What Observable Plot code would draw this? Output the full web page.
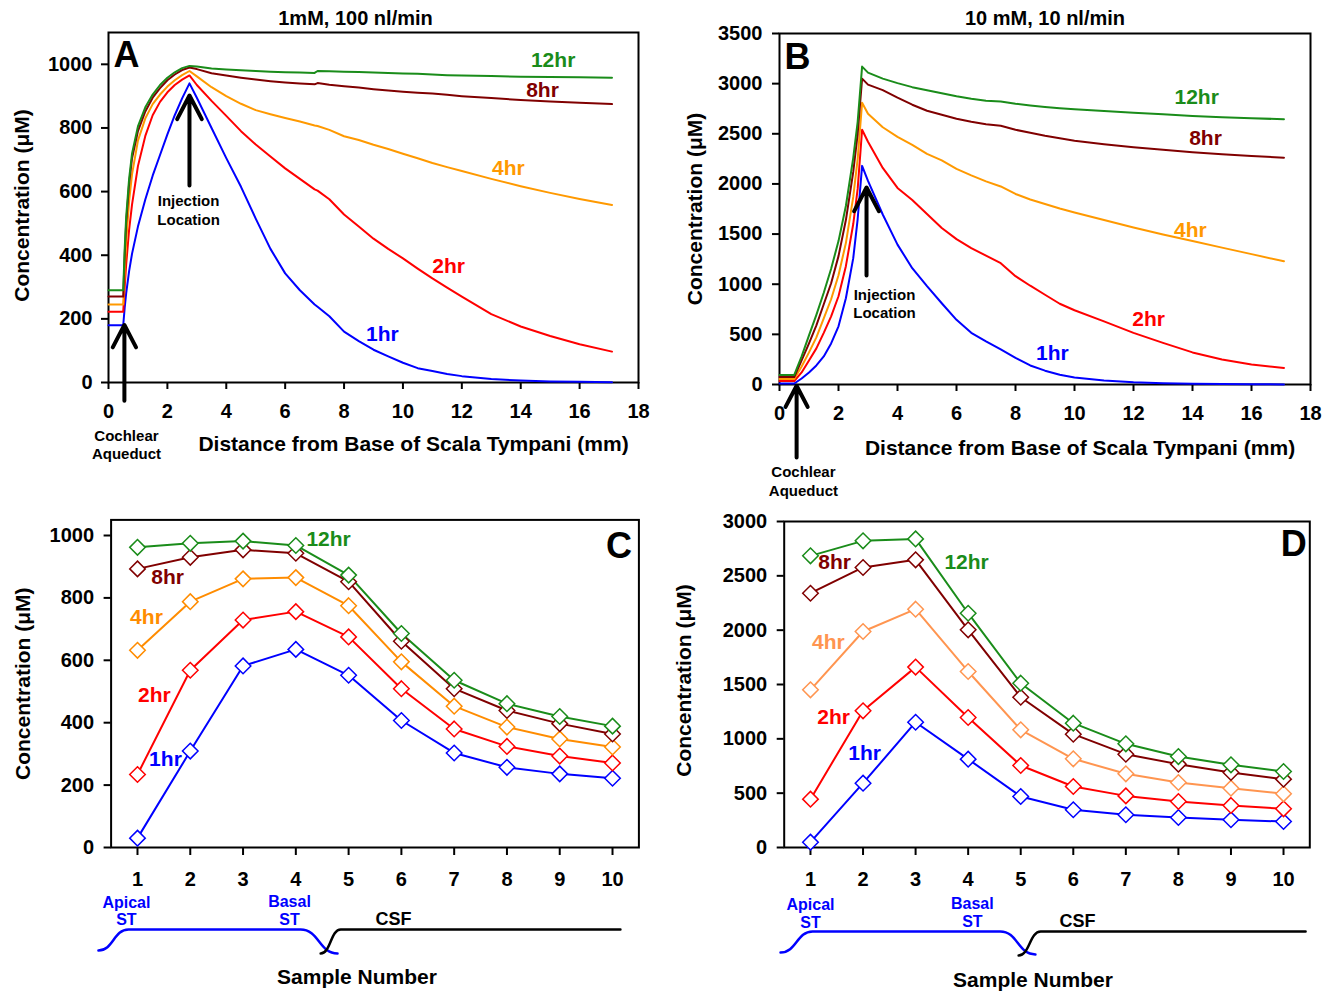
<!DOCTYPE html>
<html>
<head>
<meta charset="utf-8">
<script src="https://cdn.jsdelivr.net/npm/d3@7"></script>
<script src="https://cdn.jsdelivr.net/npm/@observablehq/plot@0.6"></script>
<style>
  html, body { margin: 0; padding: 0; background: #fff; }
  #root { position: relative; width: 1335px; height: 991px; background: #fff; overflow: hidden; }
  #root > div { position: absolute; }
</style>
</head>
<body>
<div id="root">
  <div id="pA" style="left:0px; top:0px;"></div>
  <div id="pB" style="left:670px; top:0px;"></div>
  <div id="pC" style="left:0px; top:500px;"></div>
  <div id="pD" style="left:670px; top:500px;"></div>
</div>
<script>
// ---------------- DATA ----------------
const seriesNames = ["1hr", "2hr", "4hr", "8hr", "12hr"];
const colorsAB = ["#0000ff", "#ff0000", "#ff9900", "#800000", "#1a8c1a"];
const colorsC  = ["#0000ff", "#ff0000", "#ff8c00", "#800000", "#1a8c1a"];
const colorsD  = ["#0000ff", "#ff0000", "#ff9550", "#800000", "#1a8c1a"];

const titleA = "1mM, 100 nl/min";
const titleB = "10 mM, 10 nl/min";
const xTitleAB = "Distance from Base of Scala Tympani (mm)";
const xTitleCD = "Sample Number";
const yTitle = "Concentration (\u03bcM)";

// Panel A: distance (mm) and concentration (uM)
const distA = [0, 0.5, 0.55, 0.6, 0.7, 0.8, 1.0, 1.25, 1.5, 1.75, 2.0, 2.25, 2.5, 2.75, 3.0, 3.5, 4, 4.5, 5, 5.5, 6, 6.5, 7, 7.1, 7.5, 8, 8.5, 9, 9.5, 10, 10.5, 11, 11.5, 12, 13, 14, 15, 16, 17.1];
const a1hr  = [180, 180, 235, 280, 350, 405, 490, 575, 650, 715, 780, 840, 893, 940, 895, 800, 705, 615, 515, 420, 343, 290, 245, 238, 208, 160, 130, 103, 82, 62, 45, 36, 27, 20, 11, 6, 3, 2, 1];
const a2hr  = [222, 222, 300, 370, 480, 560, 680, 775, 840, 882, 912, 935, 952, 965, 935, 885, 838, 790, 748, 710, 673, 640, 607, 603, 576, 528, 490, 452, 420, 390, 358, 327, 298, 270, 215, 176, 146, 120, 97];
const a4hr  = [245, 245, 350, 440, 570, 655, 760, 830, 875, 905, 930, 950, 966, 979, 962, 928, 900, 876, 856, 843, 831, 820, 808, 806, 794, 774, 762, 747, 734, 719, 705, 690, 677, 665, 640, 617, 596, 577, 558];
const a8hr  = [270, 270, 400, 500, 625, 705, 790, 852, 895, 925, 950, 968, 982, 990, 985, 972, 965, 958, 952, 947, 943, 940, 937, 941, 936, 931, 927, 922, 918, 914, 911, 908, 904, 900, 894, 888, 883, 879, 875];
const a12hr = [290, 290, 420, 520, 640, 720, 805, 865, 905, 935, 958, 975, 988, 995, 993, 987, 984, 981, 979, 977, 975, 974, 973, 979, 978, 977, 976, 974, 973, 971, 970, 968, 966, 965, 963, 961, 960, 959, 958];

// Panel B
const distB = [0, 0.5, 0.75, 1.0, 1.25, 1.5, 1.75, 2.0, 2.25, 2.5, 2.65, 2.8, 3.0, 3.5, 4, 4.5, 5, 5.5, 6, 6.5, 7, 7.5, 8, 8.5, 9, 9.5, 10, 11, 12, 13, 14, 15, 16, 17.1];
const b1hr  = [10, 10, 60, 120, 190, 280, 410, 580, 860, 1260, 1650, 2180, 2030, 1695, 1395, 1160, 980, 810, 645, 515, 430, 350, 265, 190, 138, 98, 70, 40, 22, 12, 7, 4, 2, 1];
const b2hr  = [35, 35, 120, 240, 360, 515, 680, 880, 1180, 1600, 1950, 2540, 2420, 2160, 1960, 1840, 1700, 1560, 1450, 1360, 1285, 1210, 1080, 985, 895, 805, 740, 630, 515, 415, 320, 250, 200, 165];
const b4hr  = [55, 55, 180, 320, 470, 660, 850, 1090, 1410, 1870, 2250, 2810, 2700, 2565, 2470, 2390, 2300, 2235, 2150, 2085, 2025, 1975, 1900, 1845, 1800, 1755, 1715, 1640, 1565, 1495, 1430, 1365, 1300, 1228];
const b8hr  = [75, 75, 240, 410, 590, 800, 1010, 1280, 1640, 2120, 2500, 3050, 2990, 2935, 2860, 2790, 2730, 2690, 2650, 2620, 2595, 2580, 2540, 2510, 2480, 2455, 2430, 2395, 2365, 2340, 2315, 2295, 2278, 2262];
const b12hr = [95, 95, 280, 490, 695, 915, 1155, 1430, 1780, 2260, 2620, 3170, 3110, 3050, 3005, 2965, 2935, 2905, 2875, 2850, 2830, 2822, 2800, 2782, 2767, 2755, 2745, 2727, 2710, 2694, 2678, 2666, 2655, 2645];

// Panel C / D: sample number
const samples = [1, 2, 3, 4, 5, 6, 7, 8, 9, 10];
const c1hr  = [30, 309, 582, 635, 552, 407, 303, 257, 236, 222];
const c2hr  = [234, 568, 729, 756, 675, 509, 380, 324, 293, 271];
const c4hr  = [632, 788, 861, 865, 775, 595, 453, 386, 348, 322];
const c8hr  = [893, 930, 954, 943, 852, 661, 509, 439, 397, 364];
const c12hr = [962, 975, 982, 968, 873, 686, 536, 461, 420, 389];

const d1hr  = [49, 592, 1153, 813, 469, 347, 301, 276, 255, 239];
const d2hr  = [445, 1258, 1660, 1196, 755, 561, 475, 423, 387, 356];
const d4hr  = [1451, 1988, 2193, 1620, 1083, 816, 678, 598, 546, 494];
const d8hr  = [2340, 2577, 2647, 2003, 1383, 1043, 859, 767, 690, 629];
const d12hr = [2684, 2822, 2840, 2156, 1512, 1144, 954, 837, 761, 699];

// Axis ticks
const xTicksAB = [0, 2, 4, 6, 8, 10, 12, 14, 16, 18];
const yTicksA = [0, 200, 400, 600, 800, 1000];
const yTicksB = [0, 500, 1000, 1500, 2000, 2500, 3000, 3500];
const yTicksC = [0, 200, 400, 600, 800, 1000];
const yTicksD = [0, 500, 1000, 1500, 2000, 2500, 3000];

// Series label positions (data units), order = seriesNames
const labA_x = [9.3, 11.55, 13.58, 14.74, 15.1];
const labA_y = [151, 365, 673, 918, 1013];
const labB_x = [9.25, 12.51, 13.93, 14.44, 14.14];
const labB_y = [309, 648, 1535, 2453, 2861];
const labC_x = [1.53, 1.32, 1.17, 1.57, 4.62];
const labC_y = [282, 487, 737, 865, 987];
const labD_x = [2.03, 1.44, 1.34, 1.46, 3.97];
const labD_y = [865, 1196, 1886, 2622, 2622];

// Annotations (data units)
const injText = "Injection\nLocation";
const cochText = "Cochlear\nAqueduct";
const arrowsA = [ {x1: 2.75, y1: 619, x2: 2.75, y2: 902}, {x1: 0.54, y1: -57, x2: 0.54, y2: 181} ];
const notesA  = [ {x: 2.72, y: 544, t: injText}, {x: 0.61, y: -193, t: cochText} ];
const arrowsB = [ {x1: 2.95, y1: 1087, x2: 2.95, y2: 1964}, {x1: 0.58, y1: -728, x2: 0.58, y2: -12} ];
const notesB  = [ {x: 3.56, y: 813, t: injText}, {x: 0.81, y: -957, t: cochText} ];

const stTextC = [ {x: 0.79, y: -203, t: "Apical\nST", c: "#0000ff", f: 16}, {x: 3.88, y: -202, t: "Basal\nST", c: "#0000ff", f: 16}, {x: 5.85, y: -228, t: "CSF", c: "#000000", f: 18} ];
const stBlueC_x = [0.26, 0.83, 4.09, 4.79];
const stBlueC_y = [-330, -263, -263, -340];
const csfC_x = [4.47, 4.85, 10.15];
const csfC_y = [-340, -263, -263];

const stTextD = [ {x: 1.0, y: -607, t: "Apical\nST", c: "#0000ff", f: 16}, {x: 4.08, y: -598, t: "Basal\nST", c: "#0000ff", f: 16}, {x: 6.08, y: -672, t: "CSF", c: "#000000", f: 18} ];
const stBlueD_x = [0.43, 1.04, 4.61, 5.28];
const stBlueD_y = [-966, -773, -773, -984];
const csfD_x = [4.96, 5.38, 10.42];
const csfD_y = [-994, -773, -773];

// ---------------- HELPERS ----------------
const FONT = "'Liberation Sans', Arial, Helvetica, sans-serif";
function longRows(xs, arrays) {
  return seriesNames.flatMap((s, k) => xs.map((x, i) => ({x, y: arrays[k][i], s})));
}
function labelRows(xs, ys) {
  return seriesNames.map((s, k) => ({x: xs[k], y: ys[k], s}));
}
function pts(xs, ys) { return xs.map((x, i) => ({x, y: ys[i]})); }

const centered = {textAnchor: "middle", lineAnchor: "middle"};

function commonMarks(o) {
  return [
    Plot.frame({strokeWidth: 2}),
    Plot.axisX({ticks: o.xTicks, tickSize: o.xTickSize, tickPadding: o.xTickPad, fontSize: 20, fontWeight: "bold", strokeWidth: 2, label: null}),
    Plot.axisY({ticks: o.yTicks, tickSize: 7, tickPadding: o.yTickPad, fontSize: 20, fontWeight: "bold", strokeWidth: 2, label: null, tickFormat: d => String(d)}),
    Plot.text([yTitle], {...centered, text: d => d, frameAnchor: "left", rotate: -90, dx: o.yTitleDx, dy: o.yTitleDy, fontSize: 21, fontWeight: "bold", fill: "black"}),
    Plot.text([o.xTitle], {...centered, text: d => d, frameAnchor: "bottom", dx: o.xTitleDx, dy: o.xTitleDy, fontSize: 21, fontWeight: "bold", fill: "black"}),
    Plot.text([o.letter], {...centered, text: d => d, frameAnchor: o.letterAnchor, dx: o.letterDx, dy: o.letterDy, fontSize: 36, fontWeight: "bold", fill: "black"})
  ];
}

// ---------------- PANEL A ----------------
const plotA = Plot.plot({
  width: 660, height: 470,
  marginLeft: 108, marginRight: 22, marginTop: 32, marginBottom: 88,
  x: {domain: [0, 18]},
  y: {domain: [0, 1100]},
  color: {domain: seriesNames, range: colorsAB},
  style: {fontFamily: FONT, background: "transparent", color: "black"},
  marks: [
    ...commonMarks({xTicks: xTicksAB, xTickSize: 7, xTickPad: 14, yTicks: yTicksA, yTickPad: 9,
      yTitleDx: -86, yTitleDy: -2, xTitle: xTitleAB, xTitleDx: 40, xTitleDy: 62,
      letter: "A", letterAnchor: "top-left", letterDx: 18, letterDy: 23}),
    Plot.text([titleA], {...centered, text: d => d, frameAnchor: "top", dx: -18, dy: -14, fontSize: 20, fontWeight: "bold"}),
    Plot.line(longRows(distA, [a1hr, a2hr, a4hr, a8hr, a12hr]), {x: "x", y: "y", z: "s", stroke: "s", strokeWidth: 2}),
    Plot.text(labelRows(labA_x, labA_y), {x: "x", y: "y", text: "s", fill: "s", fontSize: 21, fontWeight: "bold"}),
    Plot.arrow(arrowsA, {x1: "x1", y1: "y1", x2: "x2", y2: "y2", stroke: "black", strokeWidth: 4, headLength: 10, headAngle: 55}),
    Plot.text(notesA, {x: "x", y: "y", text: "t", fontSize: 15, fontWeight: "bold", lineHeight: 1.25, fill: "black"})
  ]
});
document.getElementById("pA").append(plotA);

// ---------------- PANEL B ----------------
const plotB = Plot.plot({
  width: 665, height: 500,
  marginLeft: 109, marginRight: 25, marginTop: 33, marginBottom: 116,
  x: {domain: [0, 18]},
  y: {domain: [0, 3500]},
  color: {domain: seriesNames, range: colorsAB},
  style: {fontFamily: FONT, background: "transparent", color: "black"},
  marks: [
    ...commonMarks({xTicks: xTicksAB, xTickSize: 7, xTickPad: 14, yTicks: yTicksB, yTickPad: 10,
      yTitleDx: -84, yTitleDy: 0, xTitle: xTitleAB, xTitleDx: 35, xTitleDy: 64,
      letter: "B", letterAnchor: "top-left", letterDx: 18, letterDy: 24}),
    Plot.text([titleB], {...centered, text: d => d, frameAnchor: "top", dx: 0, dy: -15, fontSize: 20, fontWeight: "bold"}),
    Plot.line(longRows(distB, [b1hr, b2hr, b4hr, b8hr, b12hr]), {x: "x", y: "y", z: "s", stroke: "s", strokeWidth: 2}),
    Plot.text(labelRows(labB_x, labB_y), {x: "x", y: "y", text: "s", fill: "s", fontSize: 21, fontWeight: "bold"}),
    Plot.arrow(arrowsB, {x1: "x1", y1: "y1", x2: "x2", y2: "y2", stroke: "black", strokeWidth: 4, headLength: 10, headAngle: 55}),
    Plot.text(notesB, {x: "x", y: "y", text: "t", fontSize: 15, fontWeight: "bold", lineHeight: 1.25, fill: "black"})
  ]
});
document.getElementById("pB").append(plotB);

// ---------------- PANEL C ----------------
const rowsC = longRows(samples, [c1hr, c2hr, c4hr, c8hr, c12hr]);
const plotC = Plot.plot({
  width: 660, height: 491,
  marginLeft: 110.6, marginRight: 21.6, marginTop: 19.4, marginBottom: 144,
  x: {domain: [0.5, 10.5]},
  y: {domain: [0, 1050]},
  color: {domain: seriesNames, range: colorsC},
  style: {fontFamily: FONT, background: "transparent", color: "black"},
  marks: [
    ...commonMarks({xTicks: samples, xTickSize: 8, xTickPad: 16, yTicks: yTicksC, yTickPad: 10,
      yTitleDx: -88, yTitleDy: 0, xTitle: xTitleCD, xTitleDx: -18, xTitleDy: 130,
      letter: "C", letterAnchor: "top-right", letterDx: -20, letterDy: 27}),
    Plot.line(rowsC, {x: "x", y: "y", z: "s", stroke: "s", strokeWidth: 2}),
    Plot.dot(rowsC, {x: "x", y: "y", stroke: "s", fill: "white", symbol: "diamond2", r: 7, strokeWidth: 1.5}),
    Plot.text(labelRows(labC_x, labC_y), {x: "x", y: "y", text: "s", fill: "s", fontSize: 21, fontWeight: "bold"}),
    Plot.line(pts(stBlueC_x, stBlueC_y), {x: "x", y: "y", curve: "bump-x", stroke: "#0000ff", strokeWidth: 2.5}),
    Plot.line(pts(csfC_x, csfC_y), {x: "x", y: "y", curve: "bump-x", stroke: "black", strokeWidth: 2.5}),
    Plot.text(stTextC, {x: "x", y: "y", text: "t", fill: d => d.c, fontSize: d => d.f, fontWeight: "bold", lineHeight: 1.1})
  ]
});
document.getElementById("pC").append(plotC);

// ---------------- PANEL D ----------------
const rowsD = longRows(samples, [d1hr, d2hr, d4hr, d8hr, d12hr]);
const plotD = Plot.plot({
  width: 665, height: 491,
  marginLeft: 113.7, marginRight: 25.7, marginTop: 21, marginBottom: 144,
  x: {domain: [0.5, 10.5]},
  y: {domain: [0, 3000]},
  color: {domain: seriesNames, range: colorsD},
  style: {fontFamily: FONT, background: "transparent", color: "black"},
  marks: [
    ...commonMarks({xTicks: samples, xTickSize: 8, xTickPad: 16, yTicks: yTicksD, yTickPad: 10,
      yTitleDx: -100, yTitleDy: -4, xTitle: xTitleCD, xTitleDx: -14, xTitleDy: 133,
      letter: "D", letterAnchor: "top-right", letterDx: -16, letterDy: 23}),
    Plot.line(rowsD, {x: "x", y: "y", z: "s", stroke: "s", strokeWidth: 2}),
    Plot.dot(rowsD, {x: "x", y: "y", stroke: "s", fill: "white", symbol: "diamond2", r: 7, strokeWidth: 1.5}),
    Plot.text(labelRows(labD_x, labD_y), {x: "x", y: "y", text: "s", fill: "s", fontSize: 21, fontWeight: "bold"}),
    Plot.line(pts(stBlueD_x, stBlueD_y), {x: "x", y: "y", curve: "bump-x", stroke: "#0000ff", strokeWidth: 2.5}),
    Plot.line(pts(csfD_x, csfD_y), {x: "x", y: "y", curve: "bump-x", stroke: "black", strokeWidth: 2.5}),
    Plot.text(stTextD, {x: "x", y: "y", text: "t", fill: d => d.c, fontSize: d => d.f, fontWeight: "bold", lineHeight: 1.1})
  ]
});
document.getElementById("pD").append(plotD);
</script>
</body>
</html>
